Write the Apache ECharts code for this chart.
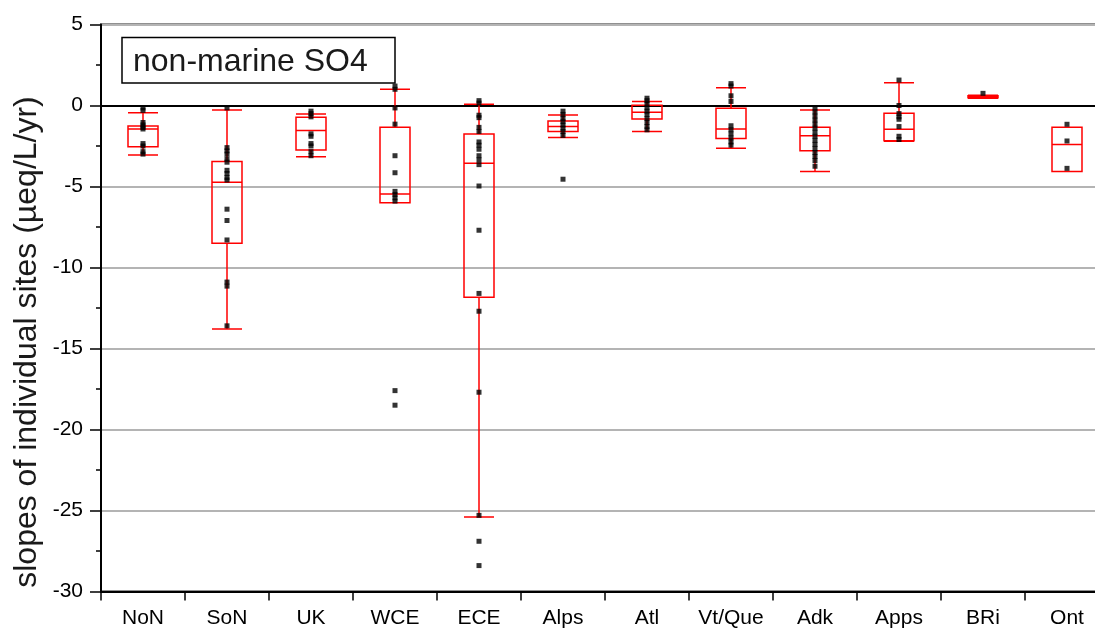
<!DOCTYPE html>
<html>
<head>
<meta charset="utf-8">
<title>non-marine SO4 slopes</title>
<script src="https://cdn.jsdelivr.net/npm/echarts@6/dist/echarts.min.js"></script>
<style>
  html, body { margin: 0; padding: 0; background: #ffffff; overflow: hidden; }
  /* the plot frame runs past the right edge of the page, so the chart is a bit wider than the window */
  #chart { width: 1112px; height: 631px; }
</style>
</head>
<body>
<div id="chart"></div>
<script>
// Regions along the x axis
const categories = ['NoN', 'SoN', 'UK', 'WCE', 'ECE', 'Alps', 'Atl', 'Vt/Que', 'Adk', 'Apps', 'BRi', 'Ont'];

// Box statistics per region: [lower whisker, Q1, median, Q3, upper whisker]
const boxNoN   = [-3.06, -2.54, -1.45, -1.27, -0.44];
const boxSoN   = [-13.8, -8.5, -4.74, -3.45, -0.28];
const boxUK    = [-3.16, -2.75, -1.55, -0.73, -0.52];
const boxWCE   = [-6.0, -6.0, -5.46, -1.35, 1.0];
const boxECE   = [-25.4, -11.84, -3.57, -1.76, 0.07];
const boxAlps  = [-1.98, -1.6, -1.3, -0.96, -0.59];
const boxAtl   = [-1.6, -0.83, -0.42, 0.02, 0.24];
const boxVtQue = [-2.64, -2.03, -1.45, -0.17, 1.1];
const boxAdk   = [-4.08, -2.79, -1.86, -1.35, -0.28];
const boxApps  = [-2.2, -2.17, -1.47, -0.48, 1.41];
const boxBRi   = [0.45, 0.48, 0.55, 0.6, 0.63];
const boxOnt   = [-4.08, -4.08, -2.4, -1.35, -1.35];

// Slopes of the individual sites in each region (µeq/L/yr)
const sitesNoN   = [-0.15, -0.3, -1.05, -1.2, -1.35, -1.45, -2.35, -2.5, -2.85, -3.0];
const sitesSoN   = [-0.15, -2.6, -2.8, -3.0, -3.3, -3.5, -4.0, -4.2, -4.45, -4.6, -6.4, -7.1, -8.3, -10.9, -11.15, -13.6];
const sitesUK    = [-0.35, -0.5, -0.7, -1.75, -1.9, -2.35, -2.5, -2.85, -3.1];
const sitesWCE   = [1.2, 1.0, -0.15, -1.15, -3.1, -4.15, -5.3, -5.5, -5.7, -5.9, -17.6, -18.5];
const sitesECE   = [0.3, 0.15, -0.6, -0.75, -1.35, -1.6, -2.25, -2.45, -2.7, -3.1, -3.35, -3.65, -4.97, -7.7, -11.6, -12.7, -17.7, -25.3, -26.9, -28.4];
const sitesAlps  = [-0.35, -0.55, -0.8, -1.0, -1.2, -1.4, -1.6, -1.85, -4.55];
const sitesAtl   = [0.45, 0.3, 0.1, -0.15, -0.35, -0.55, -0.8, -1.05, -1.3, -1.5];
const sitesVtQue = [1.35, 1.2, 0.6, 0.25, -1.25, -1.5, -1.75, -2.0, -2.25, -2.45];
const sitesAdk   = [-0.15, -0.4, -0.65, -0.9, -1.15, -1.4, -1.65, -1.9, -2.15, -2.4, -2.65, -2.9, -3.15, -3.4, -3.75];
const sitesApps  = [1.57, 0.0, -0.5, -0.7, -0.85, -1.3, -1.9, -2.1];
const sitesBRi   = [0.75];
const sitesOnt   = [-1.16, -2.19, -3.88];

// Y axis range and ticks
const yMin = -30;
const yMax = 5;
const yStep = 5;

const boxData = [boxNoN, boxSoN, boxUK, boxWCE, boxECE, boxAlps, boxAtl, boxVtQue, boxAdk, boxApps, boxBRi, boxOnt];
const siteGroups = [sitesNoN, sitesSoN, sitesUK, sitesWCE, sitesECE, sitesAlps, sitesAtl, sitesVtQue, sitesAdk, sitesApps, sitesBRi, sitesOnt];

const siteData = [];
siteGroups.forEach(function (group, i) {
  group.forEach(function (v) { siteData.push([i, v]); });
});

const FONT = '"Liberation Sans", Arial, sans-serif';

const chart = echarts.init(document.getElementById('chart'), null, { renderer: 'canvas' });

chart.setOption({
  animation: false,
  backgroundColor: '#ffffff',
  grid: {
    left: 101,
    top: 24.5,
    width: 1008,
    height: 567,
    show: true,
    borderColor: '#222222',
    borderWidth: 2,
    backgroundColor: '#ffffff'
  },
  xAxis: {
    type: 'category',
    data: categories,
    boundaryGap: true,
    axisLine: { show: true, onZero: false, lineStyle: { color: '#000000', width: 2 } },
    axisTick: { show: true, interval: 0, length: 9, lineStyle: { color: '#000000', width: 1.5 } },
    axisLabel: { interval: 0, margin: 16, color: '#000000', fontSize: 21, fontFamily: FONT },
    splitLine: { show: false }
  },
  yAxis: {
    type: 'value',
    min: yMin,
    max: yMax,
    interval: yStep,
    axisLine: { show: true, lineStyle: { color: '#000000', width: 2 } },
    axisTick: { show: true, length: 11, lineStyle: { color: '#000000', width: 1.5 } },
    minorTick: { show: true, splitNumber: 2, length: 5, lineStyle: { color: '#000000', width: 1.5 } },
    axisLabel: { margin: 18, color: '#000000', fontSize: 21, fontFamily: FONT },
    splitLine: { show: true, lineStyle: { color: '#b4b4b4', width: 2 } }
  },
  graphic: [
    {
      type: 'text',
      x: 27,
      y: 342,
      rotation: Math.PI / 2,
      style: {
        text: 'slopes of individual sites (µeq/L/yr)',
        font: '32px ' + FONT,
        fill: '#1a1a1a',
        textAlign: 'center',
        textVerticalAlign: 'middle'
      },
      z: 10
    },
    {
      type: 'rect',
      shape: { x: 122, y: 37.5, width: 273, height: 45.5 },
      style: { fill: '#ffffff', stroke: '#000000', lineWidth: 1.5 },
      z: 10
    },
    {
      type: 'text',
      x: 133,
      y: 62,
      style: {
        text: 'non-marine SO4',
        font: '32px ' + FONT,
        fill: '#1a1a1a',
        textAlign: 'left',
        textVerticalAlign: 'middle'
      },
      z: 11
    }
  ],
  series: [
    {
      type: 'boxplot',
      data: boxData,
      boxWidth: [30, 30],
      itemStyle: { color: 'rgba(0,0,0,0)', borderColor: '#ff0000', borderWidth: 1.5 },
      emphasis: { disabled: true },
      z: 3
    },
    {
      type: 'scatter',
      data: siteData,
      symbol: 'rect',
      symbolSize: 5,
      itemStyle: { color: '#000000' },
      emphasis: { disabled: true },
      z: 4,
      markLine: {
        silent: true,
        symbol: 'none',
        label: { show: false },
        lineStyle: { color: '#000000', width: 2, type: 'solid' },
        data: [{ yAxis: 0 }],
        z: 2
      }
    }
  ]
});
</script>
</body>
</html>
